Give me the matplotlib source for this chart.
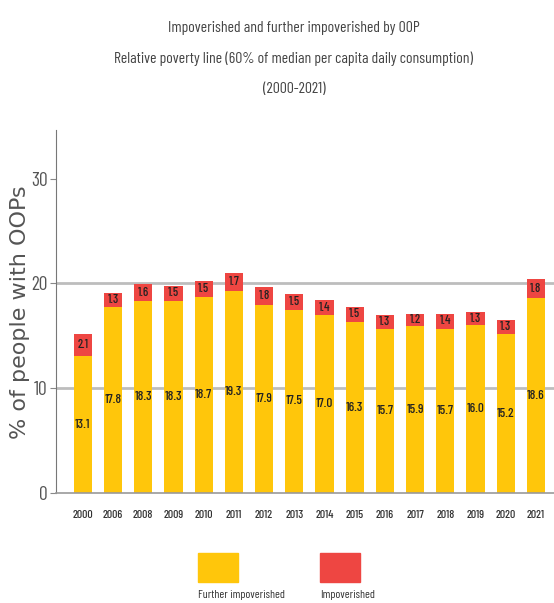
import numpy as np
import matplotlib.pyplot as plt
from matplotlib.patches import Rectangle

years = ['2000', '2006', '2008', '2009', '2010', '2011', '2012', '2013',
         '2014', '2015', '2016', '2017', '2018', '2019', '2020', '2021']
further = [13.1, 17.8, 18.3, 18.3, 18.7, 19.3, 17.9, 17.5,
           17.0, 16.3, 15.7, 15.9, 15.7, 16.0, 15.2, 18.6]
impov = [2.1, 1.3, 1.6, 1.5, 1.5, 1.7, 1.8, 1.5,
         1.4, 1.5, 1.3, 1.2, 1.4, 1.3, 1.3, 1.8]

title_lines = ['Impoverished and further impoverished by OOP',
               'Relative poverty line (60% of median per capita daily consumption)',
               '(2000-2021)']

yellow = '#FFC60B'
red = '#EE4642'
narrow = ['Barlow Condensed', 'DejaVu Sans']

fig = plt.figure(figsize=(5.54, 6.03), dpi=100)
ax = fig.add_axes([0.101, 0.182, 0.899, 0.602])

x = np.arange(len(years))
ax.bar(x, further, width=0.6, color=yellow, zorder=2)
ax.bar(x, impov, width=0.6, bottom=further, color=red, zorder=2)

for i in range(len(years)):
    ax.text(x[i], further[i] / 2, '%.1f' % further[i], ha='center', va='center',
            fontsize=9.5, family=narrow, weight='medium', color='#222222', zorder=3)
    ax.text(x[i], further[i] + impov[i] / 2, '%.1f' % impov[i], ha='center', va='center',
            fontsize=9, family=narrow, weight='medium', color='#222222', zorder=3)

for g in [10, 20]:
    ax.axhline(g, color='#BDBDBD', lw=2, zorder=1)

ax.set_xlim(-0.89, 15.6)
ax.set_ylim(0, 34.6)
ax.set_yticks([0, 10, 20, 30])
ax.set_xticks(x)
ax.set_xticklabels(years, family=narrow, fontsize=8.5, weight='medium', color='#333333')
for lab in ax.get_yticklabels():
    lab.set_family(narrow)
    lab.set_fontsize(14)
    lab.set_color('#555555')
ax.tick_params(axis='x', length=0, pad=12)
ax.tick_params(axis='y', length=4, color='#888888', pad=2)

for s in ['top', 'right']:
    ax.spines[s].set_visible(False)
ax.spines['left'].set_color('#777777')
ax.spines['bottom'].set_color('#999999')
ax.spines['bottom'].set_linewidth(1.2)

fig.text(20 / 554, 1 - 312 / 603, '% of people with OOPs', rotation=90,
         ha='center', va='center', fontsize=16, color='#555555')

# title, one text per line
for line, base in zip(title_lines, [32, 63, 93]):
    fig.text(294 / 554, 1 - base / 603, line, ha='center', va='baseline',
             family=narrow, fontsize=11.3, color='#444444')

# legend drawn by hand: squares with labels underneath
leg = [('Further impoverished', yellow, 198), ('Impoverished', red, 320)]
for name, col, px in leg:
    fig.patches.append(Rectangle((px / 554, 1 - 582 / 603), 40 / 554, 29 / 603,
                                 transform=fig.transFigure, color=col))
    fig.text(px / 554, 1 - 595 / 603, name, ha='left', va='center',
             family=narrow, fontsize=8.5, color='#333333')

fig.savefig('out.png', dpi=100)
